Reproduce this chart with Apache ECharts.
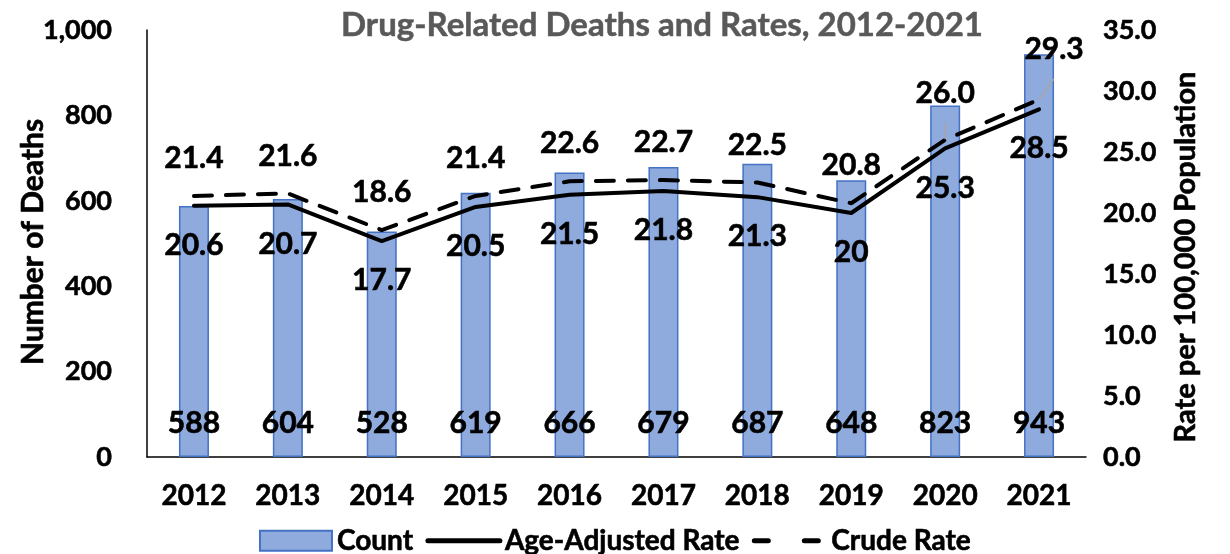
<!DOCTYPE html>
<html>
<head>
<meta charset="utf-8">
<script src="https://cdn.jsdelivr.net/npm/echarts@6/dist/echarts.min.js"></script>
<style>
  html, body { margin: 0; padding: 0; background: #fff; }
  #chart { width: 1230px; height: 554px; }
</style>
</head>
<body>
<div id="chart"></div>
<script>
// Drug-related deaths (count) with age-adjusted and crude rates per 100,000
const years = ['2012', '2013', '2014', '2015', '2016', '2017', '2018', '2019', '2020', '2021'];
const deathCounts = [588, 604, 528, 619, 666, 679, 687, 648, 823, 943];
const ageAdjustedRate = [20.6, 20.7, 17.7, 20.5, 21.5, 21.8, 21.3, 20, 25.3, 28.5];
const crudeRate = [21.4, 21.6, 18.6, 21.4, 22.6, 22.7, 22.5, 20.8, 26.0, 29.3];

const FONT = 'Lato';
const chart = echarts.init(document.getElementById('chart'));

// Crude labels sit above the line; 2020 and 2021 are lifted with guide lines
const crudeData = crudeRate.map((v, i) => {
  const item = { value: v };
  if (i === 8) {
    item.label = { offset: [0, -9] };
    item.labelLine = { show: true };
  }
  if (i === 9) {
    item.label = { offset: [15, -13] };
    item.labelLine = { show: true };
  }
  return item;
});

// Heavy black text: bold face plus a hairline stroke of the same colour
const heavy = { fontFamily: FONT, fontWeight: 'bold', color: '#000', textBorderColor: '#000', textBorderWidth: 0.6 };
const labelFont = Object.assign({ fontSize: 30 }, heavy);

const option = {
  animation: false,
  textStyle: { fontFamily: FONT },
  title: {
    text: 'Drug-Related Deaths and Rates, 2012-2021',
    left: 657,
    textAlign: 'center',
    top: 4,
    textStyle: {
      fontFamily: FONT, fontSize: 33, fontWeight: 'bold', color: '#595959',
      textBorderColor: '#595959', textBorderWidth: 0.5
    }
  },
  legend: {
    bottom: -6,
    left: 'center',
    itemWidth: 72,
    itemHeight: 20,
    itemGap: 12,
    lineStyle: { width: 5 },
    textStyle: Object.assign({ fontSize: 28 }, heavy),
    data: [
      { name: 'Count', icon: 'rect' },
      { name: 'Age-Adjusted Rate' },
      { name: 'Crude Rate', lineStyle: { type: [14, 36], width: 5 } }
    ]
  },
  grid: { left: 147, right: 144, top: 30, bottom: 97 },
  xAxis: {
    type: 'category',
    data: years,
    axisLine: { show: true, lineStyle: { color: '#000', width: 1.5 } },
    axisTick: { show: false },
    axisLabel: Object.assign({ margin: 25, fontSize: 28 }, heavy)
  },
  yAxis: [
    {
      type: 'value',
      min: 0, max: 1000, interval: 200,
      axisLine: { show: true, lineStyle: { color: '#000', width: 1.5 } },
      axisTick: { show: false },
      splitLine: { show: false },
      axisLabel: Object.assign({
        margin: 35, fontSize: 27,
        formatter: v => v.toLocaleString('en-US')
      }, heavy)
    },
    {
      type: 'value',
      min: 0, max: 35, interval: 5,
      axisLine: { show: false },
      axisTick: { show: false },
      splitLine: { show: false },
      axisLabel: Object.assign({
        margin: 17, fontSize: 27,
        formatter: v => v.toFixed(1)
      }, heavy)
    }
  ],
  graphic: [
    {
      type: 'text',
      x: 33, y: 242,
      rotation: Math.PI / 2,
      style: {
        text: 'Number of Deaths', fontFamily: FONT, fontSize: 30, fontWeight: 'bold',
        fill: '#000', stroke: '#000', lineWidth: 0.6, align: 'center', verticalAlign: 'middle'
      }
    },
    {
      type: 'text',
      x: 1186, y: 257,
      rotation: Math.PI / 2,
      style: {
        text: 'Rate per 100,000 Population', fontFamily: FONT, fontSize: 29, fontWeight: 'bold',
        fill: '#000', stroke: '#000', lineWidth: 0.6, align: 'center', verticalAlign: 'middle'
      }
    }
  ],
  series: [
    {
      name: 'Count',
      type: 'bar',
      yAxisIndex: 0,
      data: deathCounts,
      barWidth: 30,
      itemStyle: { color: '#8faadc', borderColor: '#4472c4', borderWidth: 1.5 },
      label: Object.assign({ show: true, position: 'insideBottom', distance: 19 }, labelFont),
      z: 1
    },
    {
      name: 'Age-Adjusted Rate',
      type: 'line',
      yAxisIndex: 1,
      data: ageAdjustedRate,
      symbol: 'circle',
      symbolSize: 1,
      itemStyle: { color: 'rgba(0,0,0,0)' },
      lineStyle: { color: '#000', width: 4, cap: 'round', join: 'round' },
      label: Object.assign({
        show: true, position: 'bottom', distance: 24,
        formatter: p => String(p.value)
      }, labelFont),
      z: 3
    },
    {
      name: 'Crude Rate',
      type: 'line',
      yAxisIndex: 1,
      data: crudeData,
      symbol: 'circle',
      symbolSize: 1,
      itemStyle: { color: 'rgba(0,0,0,0)' },
      lineStyle: { color: '#000', width: 4, type: [18, 14], cap: 'round' },
      label: Object.assign({
        show: true, position: 'top', distance: 22,
        formatter: p => Number(p.value).toFixed(1)
      }, labelFont),
      labelLine: { show: false, lineStyle: { color: '#a6a6a6', width: 1.5 } },
      z: 3
    }
  ]
};

chart.setOption(option);
</script>
</body>
</html>
